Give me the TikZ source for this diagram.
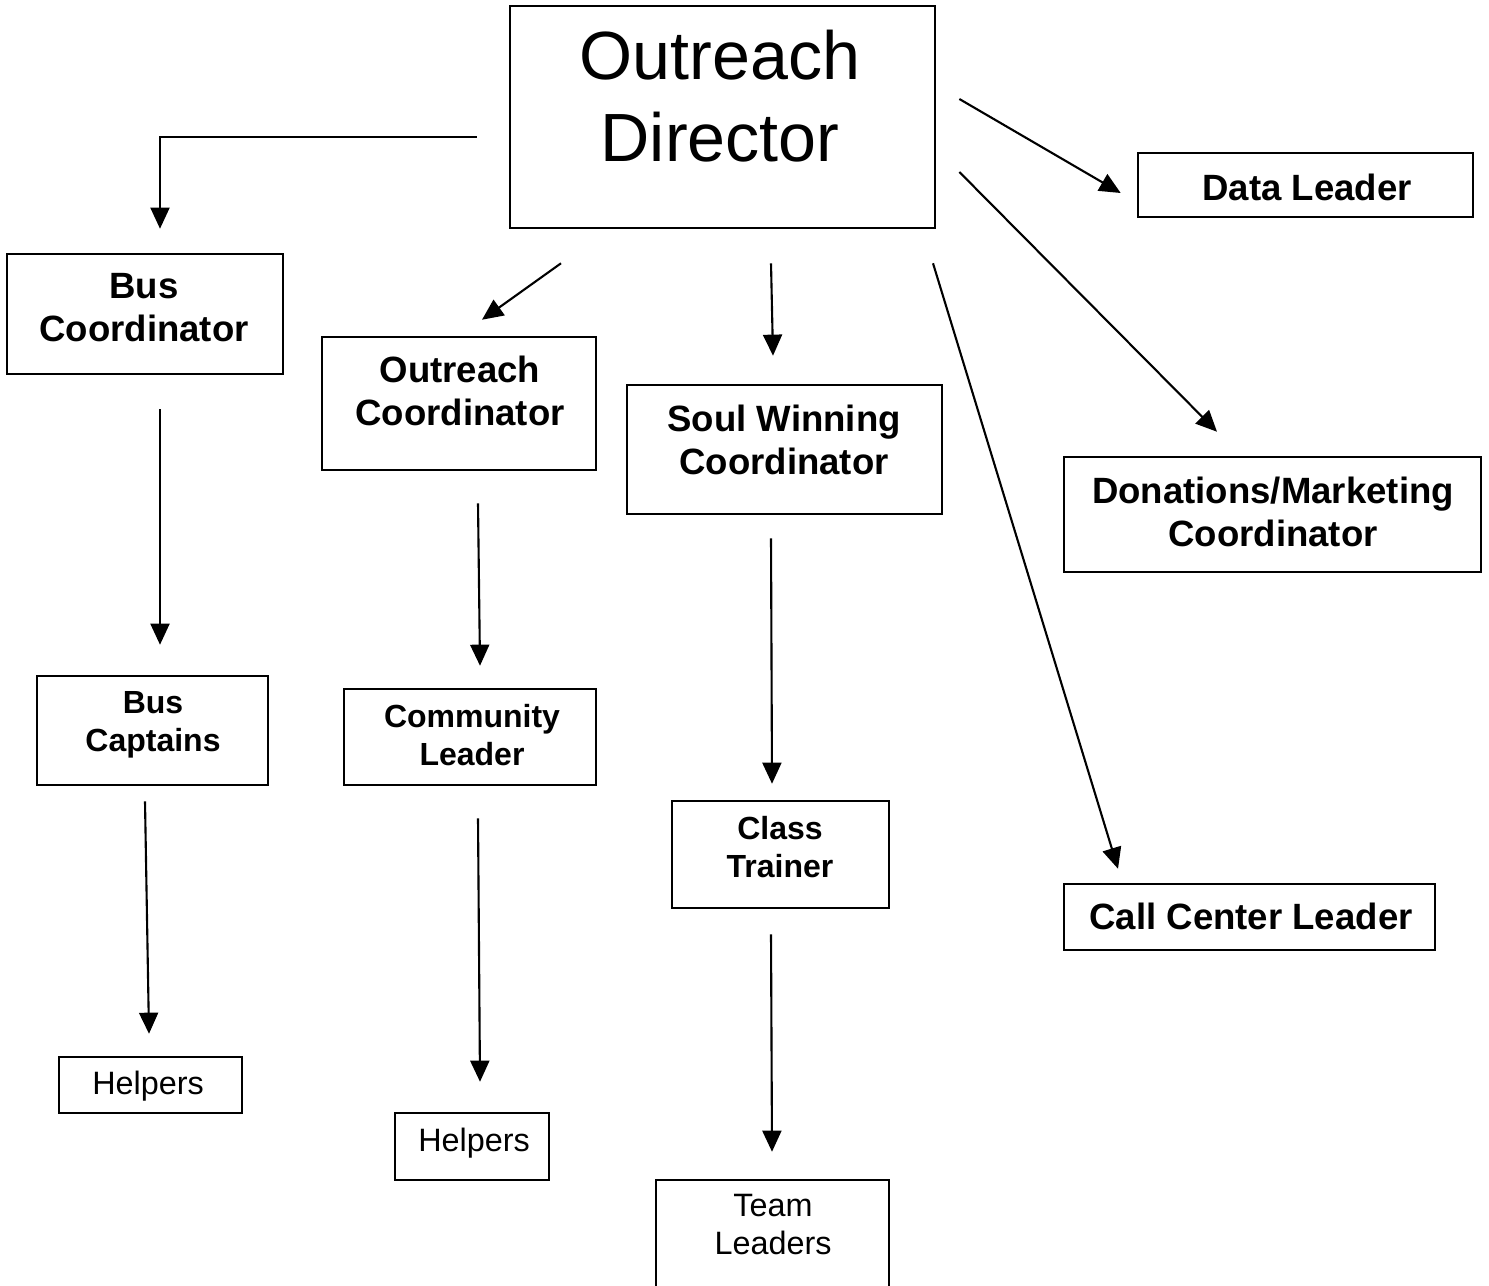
\documentclass[tikz,border=0pt]{standalone}
\usepackage{fontspec}
\setmainfont{Liberation Sans}
\usetikzlibrary{arrows.meta}

\begin{document}
\begin{tikzpicture}
[x=0.01cm, y=-0.01cm, line width=0.6pt,
box/.style={rectangle, draw, line width=0.7pt, inner sep=0pt},
bigtxt/.style={anchor=north, inner sep=0pt, align=center, font=\fontsize{19.4}{23.3}\selectfont},
boldtxt/.style={anchor=north, inner sep=0pt, align=center, font=\bfseries\fontsize{10.4}{12.2}\selectfont},
smbold/.style={anchor=north, inner sep=0pt, align=center, font=\bfseries\fontsize{9.1}{10.9}\selectfont},
smtxt/.style={anchor=north, inner sep=0pt, align=center, font=\fontsize{9.2}{10.9}\selectfont},
arr/.style={-{Triangle[width=5.4pt, length=6pt]}}]

\useasboundingbox (0,0) rectangle (1489,1285);
\clip (0,0) rectangle (1489,1285);

% boxes
\node[box, minimum width=4.25cm, minimum height=2.22cm] (dir) at (722.5,117) {};
\node[box, minimum width=2.76cm, minimum height=1.20cm] (busco) at (145,314) {};
\node[box, minimum width=2.74cm, minimum height=1.33cm] (outco) at (459,403.5) {};
\node[box, minimum width=3.15cm, minimum height=1.29cm] (soul) at (784.5,449.5) {};
\node[box, minimum width=4.17cm, minimum height=1.15cm] (don) at (1272.5,514.5) {};
\node[box, minimum width=3.35cm, minimum height=0.64cm] (data) at (1305.5,185) {};
\node[box, minimum width=2.31cm, minimum height=1.09cm] (buscap) at (152.5,730.5) {};
\node[box, minimum width=2.52cm, minimum height=0.96cm] (comm) at (470,737) {};
\node[box, minimum width=2.17cm, minimum height=1.07cm] (class) at (780.5,854.5) {};
\node[box, minimum width=3.71cm, minimum height=0.66cm] (call) at (1249.5,917) {};
\node[box, minimum width=1.83cm, minimum height=0.56cm] (help1) at (150.5,1085) {};
\node[box, minimum width=1.54cm, minimum height=0.67cm] (help2) at (472,1146.5) {};
\node[box, minimum width=2.33cm, minimum height=1.40cm] (team) at (772.5,1250) {};

% texts
\node[bigtxt] (dirt) at (720,29) {Outreach\\Director};
\node[boldtxt] (buscot) at (144,272) {Bus\\Coordinator};
\node[boldtxt] (outcot) at (460,355) {Outreach\\Coordinator};
\node[boldtxt] (soult) at (784,404) {Soul Winning\\Coordinator};
\node[boldtxt] (dont) at (1273,476) {Donations/Marketing\\Coordinator};
\node[boldtxt] (datat) at (1307,173) {Data Leader};
\node[boldtxt] (callt) at (1251,902) {Call Center Leader};
\node[smbold] (buscapt) at (153,690) {Bus\\Captains};
\node[smbold] (commt) at (472,703) {Community\\Leader};
\node[smbold] (classt) at (780,815) {Class\\Trainer};
\node[smtxt] (help1t) at (148,1070) {Helpers};
\node[smtxt] (help2t) at (474,1127) {Helpers};
\node[smtxt] (teamt) at (773,1193) {Team\\Leaders};

% arrows
\draw[arr] ([shift={(-32,20)}]dir.west) -| ([shift={(15,-24)}]busco.north);
\draw[arr] ([shift={(-161.5,34)}]dir.south) -- ([shift={(23,-16)}]outco.north);
\draw[arr] ([shift={(48.5,34)}]dir.south) -- ([shift={(-11.5,-28)}]soul.north);
\draw[arr] ([shift={(210.5,34)}]dir.south) -- ([shift={(-131.5,-14)}]call.north);
\draw[arr] ([shift={(23,-18)}]dir.east) -- ([shift={(-16,8)}]data.west);
\draw[arr] ([shift={(23,55)}]dir.east) -- ([shift={(-55.5,-24)}]don.north);
\draw[arr] ([shift={(15,34)}]busco.south) -- ([shift={(7.5,-30)}]buscap.north);
\draw[arr] ([shift={(19,32)}]outco.south) -- ([shift={(10,-22)}]comm.north);
\draw[arr] ([shift={(-13.5,23)}]soul.south) -- ([shift={(-8.5,-16)}]class.north);
\draw[arr] ([shift={(-7.5,15)}]buscap.south) -- ([shift={(-1.5,-22)}]help1.north);
\draw[arr] ([shift={(8,32)}]comm.south) -- ([shift={(8,-30)}]help2.north);
\draw[arr] ([shift={(-9.5,25)}]class.south) -- ([shift={(-0.5,-27)}]team.north);
\end{tikzpicture}
\end{document}
